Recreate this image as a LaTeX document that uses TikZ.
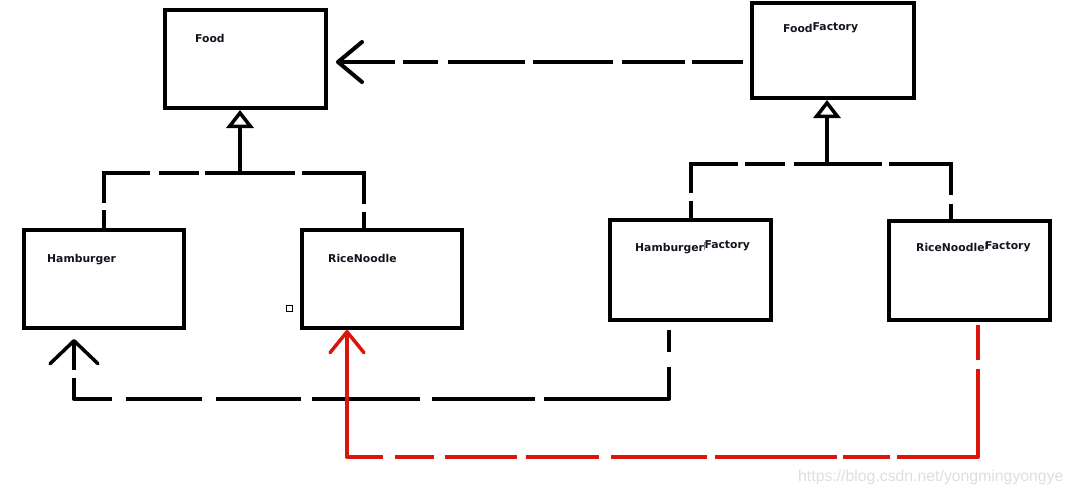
\documentclass[tikz,border=0pt]{standalone}
\usepackage{fontspec}
\usetikzlibrary{arrows.meta}
\newfontfamily\dvsans{DejaVu Sans}
\newfontfamily\wmfont{Liberation Sans}
\definecolor{redline}{RGB}{218,22,12}
\definecolor{wmgray}{RGB}{222,222,222}
\definecolor{txtdark}{RGB}{20,20,30}
\newcommand{\cursorbar}{{\color{gray}\rule[1pt]{0.6pt}{8pt}}}
\begin{document}
\begin{tikzpicture}[x=1pt,y=-1pt,
  box/.style={draw=black, line width=4pt, inner sep=0pt, fill=white},
  lbl/.style={font=\dvsans\bfseries\fontsize{10.8}{12}\selectfont, text=txtdark, anchor=base west, inner sep=0pt},
  conn/.style={line width=4pt, black},
  inherit/.style={conn, -{Triangle[open, length=18pt, width=27pt, line width=3.5pt]}}
]
\useasboundingbox (0,0) rectangle (1074,495);

% boxes
\node[box, minimum width=161pt, minimum height=98pt] (food) at (245.5,59) {};
\node[box, minimum width=162pt, minimum height=95pt] (ff) at (833,50.5) {};
\node[box, minimum width=160pt, minimum height=98pt] (hb) at (104,279) {};
\node[box, minimum width=160pt, minimum height=98pt] (rn) at (382,279) {};
\node[box, minimum width=161pt, minimum height=100pt] (hf) at (690.5,270) {};
\node[box, minimum width=161pt, minimum height=99pt] (rf) at (969.5,270.5) {};

% labels
\node[lbl] (tfood) at (195,43) {Food};
\node[lbl] (tff) at (783,33) {Food\raisebox{2pt}{Factory}};
\node[lbl] (thb) at (47,262) {Hamburger};
\node[lbl] (trn) at (328,262) {RiceNoodle};
\node[lbl] (thf) at (635,251) {Hamburger\cursorbar\raisebox{3pt}{Factory}};
\node[lbl] (trf) at (916,251) {RiceNoodle\cursorbar\raisebox{2pt}{Factory}};

% small square
\node[draw=black, line width=1pt, minimum size=6pt, inner sep=0pt] (sq) at (289.5,308.5) {};

% helper coordinates
\coordinate (depy) at (0,62);
\coordinate (j1) at (240,173);
\coordinate (rnup) at (364,0);
\coordinate (j2) at (827,164);
\coordinate (rfup) at (951,0);
\coordinate (hfdrop) at (669,399);
\coordinate (hbup) at (74,0);
\coordinate (rfdrop) at (978,457);
\coordinate (rnarr) at (347,0);

% FoodFactory -> Food (dependency)
\draw[conn, shorten >=8pt,
  -{Straight Barb[round, length=24pt, width=40pt, line width=4pt]},
  dash pattern=on 0pt off 7pt on 51pt off 7pt on 63pt off 9pt on 80pt off 8pt on 77pt off 10pt on 35pt off 8pt on 90pt]
  (ff.west |- depy) -- (food.east |- depy);

% Food generalization
\draw[inherit] (j1) -- (food.south -| j1);
\draw[conn, line join=miter,
  dash pattern=on 18pt off 7pt on 76pt off 9pt on 40pt off 6pt on 90pt off 7pt on 93pt off 8pt on 40pt]
  (hb.north) -- (hb.north |- j1) -- (rnup |- j1) -- (rnup |- rn.north);

% FoodFactory generalization
\draw[inherit] (j2) -- (ff.south -| j2);
\draw[conn, line join=miter,
  dash pattern=on 17pt off 8pt on 76pt off 7pt on 40pt off 9pt on 88pt off 7pt on 93pt off 9pt on 40pt]
  (hf.north) -- (hf.north |- j2) -- (rfup |- j2) -- (rfup |- rf.north);

% HamburgerFactory -> Hamburger
\draw[conn, line join=round, shorten >=9pt,
  -{Straight Barb[round, length=23pt, width=48pt, line width=3.5pt]},
  dash pattern=on 0pt off 8pt on 22pt off 15pt on 157pt off 9pt on 103pt off 12pt on 108pt off 11pt on 85pt off 14pt on 76pt off 14pt on 59pt off 8pt on 60pt]
  (hf.south -| hfdrop) -- (hfdrop) -- (hbup |- hfdrop) -- (hbup |- hb.south);

% RiceNoodleFactory -> RiceNoodle (red)
\draw[conn, draw=redline, line join=round,
  -{Straight Barb[round, length=21pt, width=34pt, line width=3.5pt]},
  dash pattern=on 0pt off 3pt on 35pt off 9pt on 169pt off 7pt on 47pt off 6pt on 122pt off 8pt on 96pt off 12pt on 73pt off 9pt on 72pt off 11pt on 39pt off 12pt on 200pt]
  (rf.south -| rfdrop) -- (rfdrop) -- (rnarr |- rfdrop) -- (rnarr |- rn.south);

% watermark
\node[font=\wmfont\fontsize{15.8}{18}\selectfont, text=wmgray, anchor=base west, inner sep=0pt] (wm) at (798,481) {https://blog.csdn.net/yongmingyongye};
\end{tikzpicture}
\end{document}
